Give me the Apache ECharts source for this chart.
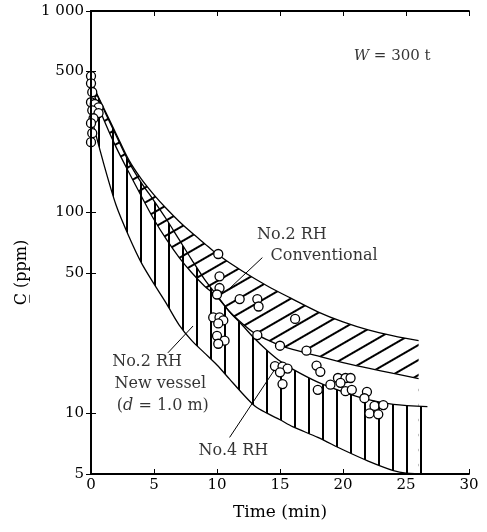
<!DOCTYPE html>
<html>
<head>
<meta charset="utf-8">
<script src="https://cdn.jsdelivr.net/npm/echarts@6/dist/echarts.min.js"></script>
<style>
  html, body { margin: 0; padding: 0; background: #fff; }
  #chart { width: 487px; height: 532px; }
</style>
</head>
<body>
<div id="chart"></div>
<script>
// No.2 RH conventional band (diagonal hatch)
const convUpper = [[0, 445], [1, 330], [2, 245], [3, 182], [4, 146], [5, 122], [6, 104], [7, 90], [8, 79], [9, 70], [10, 62], [12, 51], [14, 43], [16, 37], [18, 32], [20, 28.5], [22, 26], [24, 24.3], [26, 23]];
const convLower = [[0, 420], [1, 290], [2, 210], [3, 158], [4, 120], [5, 92], [6, 73], [7, 59.5], [8, 50], [9, 43], [10, 38], [11, 32], [12, 28], [13, 25], [14, 23.2], [15, 21.8], [16, 20.8], [18, 19.3], [20, 17.9], [22, 16.8], [24, 15.8], [26, 14.9]];
// No.2 RH new vessel band (vertical hatch)
const newUpper = [[0, 445], [1, 325], [2, 240], [3, 178], [4, 140], [5, 114], [6, 92], [7, 73], [8, 58], [9, 46.5], [10, 38.5], [11, 32], [12, 27.5], [13, 23.5], [14, 20.5], [15, 18.2], [16, 16.6], [18, 14.3], [20, 12.8], [22, 11.7], [24, 11.1], [26.7, 10.8]];
const newLower = [[0, 300], [1, 175], [2, 108], [3, 76], [4, 56], [5, 44], [6, 35], [7, 27.5], [8, 23], [9, 20], [10, 17.4], [11, 14.8], [12, 12.6], [13, 10.9], [14, 10], [15, 9.3], [16, 8.6], [18, 7.6], [20, 6.6], [22, 5.8], [24, 5.2], [25, 5.05], [26.7, 5]];
// measured carbon (ppm) vs time (min)
const carbonPoints = [
  [0, 475], [0, 437], [0.1, 395], [0, 352], [0.3, 345], [0.6, 332], [0.1, 321], [0.6, 311], [0.2, 293], [0, 277], [0.1, 247], [0, 223],
  [10.1, 62], [10.2, 48], [10.2, 42], [10.0, 39], [9.7, 30], [10.2, 30], [10.5, 29], [10.1, 28], [10.0, 24.3], [10.6, 23], [10.1, 22.2],
  [11.8, 37], [13.2, 37], [13.3, 34], [13.2, 24.5], [15.0, 21.7], [16.2, 29.5], [17.1, 20.5],
  [14.6, 17.2], [15.2, 17.1], [15.6, 16.7], [15.0, 16.0], [15.2, 14.0],
  [17.9, 17.3], [18.2, 16.1], [18.0, 13.1], [19.0, 13.9], [19.6, 15.0], [20.2, 15.0], [20.6, 15.0], [19.8, 14.2],
  [20.2, 12.9], [20.7, 13.1], [21.9, 12.8], [21.7, 11.9], [22.5, 10.9], [23.2, 11.0], [22.1, 10.0], [22.8, 9.9]
];
const yTicks = [5, 10, 50, 100, 500, 1000];
// pointer lines for the labels
const pointerConv = [[13.6, 59.5], [10.8, 40.7]];
const pointerNew = [[6.1, 20], [8.1, 27.2]];
const pointerNo4 = [[11.0, 7.6], [14.6, 16.6]];
const notes = [
  { name: 'No.2 RH', value: [15.95, 77] },
  { name: 'Conventional', value: [18.5, 61] },
  { name: 'No.2 RH', value: [4.45, 18] },
  { name: 'New vessel', value: [5.5, 14] },
  { name: '(d = 1.0 m)', value: [5.7, 10.9] },
  { name: 'No.4 RH', value: [11.3, 6.5] },
  { name: 'W = 300 t', value: [23.9, 600] },
];

const FONT = 'DejaVu Serif';
const black = '#000';

const chart = echarts.init(document.getElementById('chart'));

function fmtY(v) {
  return v === 1000 ? '1 000' : String(v);
}

const lineStyle = { color: black, width: 1.3 };

function band(data, z, fill, decal) {
  const s = {
    type: 'line',
    data: data,
    z: z,
    smooth: 0.3,
    symbol: 'none',
    silent: true,
    lineStyle: lineStyle,
    itemStyle: { color: black },
    areaStyle: { color: fill, opacity: 1 },
  };
  if (decal) {
    s.itemStyle.decal = decal;
  }
  return s;
}

function pointer(data) {
  return {
    type: 'line',
    data: data,
    z: 8,
    symbol: 'none',
    silent: true,
    lineStyle: { color: black, width: 1 },
  };
}

const option = {
  animation: false,
  backgroundColor: '#fff',
  grid: { left: 91, right: 18, top: 11, bottom: 58 },
  xAxis: [
    {
      type: 'value',
      min: 0,
      max: 30,
      interval: 5,
      z: 10,
      name: 'Time (min)',
      nameLocation: 'middle',
      nameGap: 30,
      nameTextStyle: { fontFamily: FONT, fontSize: 17, color: black },
      axisLine: { lineStyle: { color: black, width: 1.8 } },
      axisTick: { inside: true, length: 5, lineStyle: { color: black, width: 1 } },
      axisLabel: { fontFamily: FONT, fontSize: 15, color: black, margin: 4 },
      splitLine: { show: false },
    },
    {
      type: 'value',
      position: 'top',
      min: 0,
      max: 30,
      interval: 5,
      z: 10,
      axisLine: { lineStyle: { color: black, width: 1.8 } },
      axisTick: { inside: true, length: 5, lineStyle: { color: black, width: 1 } },
      axisLabel: { show: false },
      splitLine: { show: false },
    },
  ],
  yAxis: [
    {
      type: 'log',
      min: 5,
      max: 1000,
      z: 10,
      name: 'C\u0332 (ppm)',
      nameLocation: 'middle',
      nameGap: 52,
      nameRotate: 90,
      nameTextStyle: { fontFamily: FONT, fontSize: 16, color: black, padding: [0, 60, 0, 0] },
      axisLine: { lineStyle: { color: black, width: 1.8 } },
      axisTick: { inside: true, length: 5, customValues: yTicks, lineStyle: { color: black, width: 1 } },
      axisLabel: { fontFamily: FONT, fontSize: 15, color: black, margin: 7, customValues: yTicks, formatter: fmtY },
      splitLine: { show: false },
    },
    {
      type: 'log',
      position: 'right',
      min: 5,
      max: 1000,
      z: 10,
      axisLine: { lineStyle: { color: black, width: 1.8 } },
      axisTick: { inside: true, length: 5, customValues: yTicks, lineStyle: { color: black, width: 1 } },
      axisLabel: { show: false },
      splitLine: { show: false },
    },
  ],
  series: [
    band(convUpper, 2, 'rgba(0,0,0,0)', {
      symbol: 'rect', symbolSize: 1, color: black,
      dashArrayX: [4, 0], dashArrayY: [1.1, 11], rotation: -Math.PI / 6,
    }),
    band(convLower, 3, '#fff'),
    band(newUpper, 4, 'rgba(0,0,0,0)', {
      symbol: 'rect', symbolSize: 1, color: black,
      dashArrayX: [1.2, 12], dashArrayY: [4, 0], rotation: 0,
    }),
    band(newLower, 5, '#fff'),
    pointer(pointerConv),
    pointer(pointerNew),
    pointer(pointerNo4),
    {
      type: 'scatter',
      data: carbonPoints,
      z: 9,
      symbol: 'circle',
      symbolSize: 9,
      silent: true,
      itemStyle: { color: '#fff', borderColor: black, borderWidth: 1.3, opacity: 1 },
    },
    {
      type: 'scatter',
      data: notes,
      z: 11,
      symbolSize: 0.1,
      silent: true,
      itemStyle: { color: 'rgba(0,0,0,0)' },
      label: {
        show: true,
        position: 'inside',
        align: 'center',
        verticalAlign: 'middle',
        fontFamily: FONT,
        fontSize: 16,
        color: black,
        formatter: (p) => {
          if (p.name === 'W = 300 t') return '{wi|W}{w| = 300 t}';
          if (p.name === '(d = 1.0 m)') return '({i|d} = 1.0 m)';
          return p.name;
        },
        rich: {
          i: { fontFamily: FONT, fontSize: 16, fontStyle: 'italic', color: black },
          wi: { fontFamily: FONT, fontSize: 15, fontStyle: 'italic', color: black },
          w: { fontFamily: FONT, fontSize: 15, color: black },
        },
      },
    },
  ],
};

chart.setOption(option);
</script>
</body>
</html>
